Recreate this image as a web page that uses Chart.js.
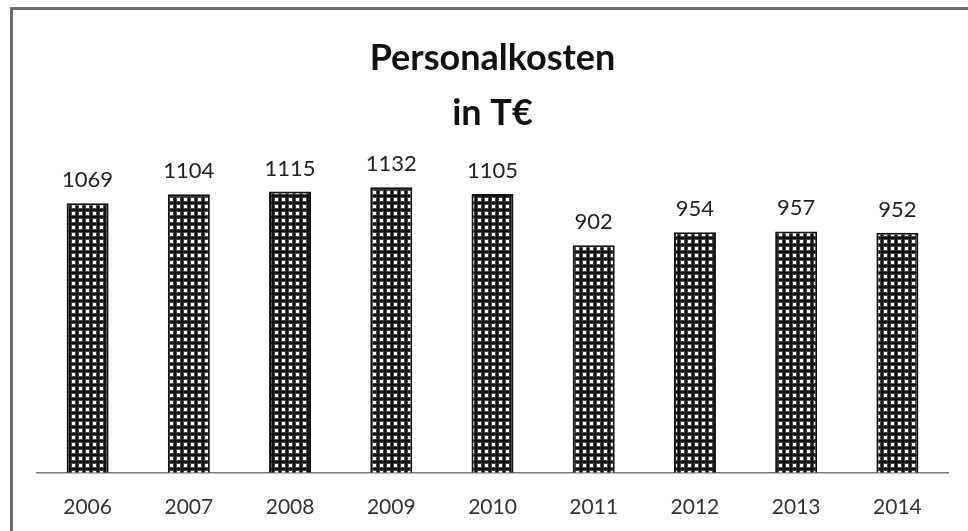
<!DOCTYPE html>
<html lang="de">
<head>
<meta charset="utf-8">
<title>Personalkosten in T€</title>
<script src="https://cdn.jsdelivr.net/npm/chart.js@4/dist/chart.umd.min.js"></script>
<style>
  html, body { margin: 0; padding: 0; background: #fff; overflow: hidden; }
  .frame {
    position: absolute; left: 10px; top: 7px; width: 1000px; height: 600px;
    border: 3px solid #6a6a6a; box-sizing: border-box;
  }
  .wrap { position: absolute; left: 0; top: 0; width: 968px; height: 531px; }
</style>
</head>
<body>
<div class="frame"></div>
<div class="wrap"><canvas id="chart" width="968" height="531"></canvas></div>
<script>
/* ---------- data ---------- */
const years = ["2006", "2007", "2008", "2009", "2010", "2011", "2012", "2013", "2014"];
const kosten = [1069, 1104, 1115, 1132, 1105, 902, 954, 957, 952];
const titleLines = ["Personalkosten", "in T€"];

const FONT = "Lato, 'Open Sans', sans-serif";

/* ---------- helpers ---------- */
function makePattern() {
  const c = document.createElement("canvas");
  c.width = 7; c.height = 7;
  const g = c.getContext("2d");
  g.fillStyle = "#111";
  g.fillRect(0, 0, 7, 7);
  g.fillStyle = "#4a4a4a";
  g.fillRect(1, 1, 5, 5);
  g.fillStyle = "#ffffff";
  g.fillRect(2, 2, 3, 3);
  return g.createPattern(c, "repeat");
}

// Werte über den Balken
const valueLabels = {
  id: "valueLabels",
  afterDatasetsDraw(chart) {
    const { ctx } = chart;
    const meta = chart.getDatasetMeta(0);
    ctx.save();
    ctx.font = `22px ${FONT}`;
    ctx.fillStyle = "#222";
    ctx.textAlign = "center";
    ctx.textBaseline = "alphabetic";
    meta.data.forEach((bar, i) => {
      ctx.fillText(String(kosten[i]), bar.x, bar.y - 16);
    });
    ctx.restore();
  },
};

/* ---------- chart ---------- */
new Chart(document.getElementById("chart"), {
  type: "bar",
  data: {
    labels: years,
    datasets: [{
      data: kosten,
      backgroundColor: makePattern(),
      borderColor: "#111",
      borderWidth: 2,
      borderSkipped: "bottom",
      categoryPercentage: 1,
      barPercentage: 0.415,
    }],
  },
  options: {
    responsive: false, animation: false,
    layout: { padding: { left: 37, right: 20, top: 0, bottom: -11 } },
    plugins: {
      legend: { display: false },
      tooltip: { enabled: false },
      title: {
        display: true,
        text: titleLines,
        color: "#111",
        font: { family: FONT, size: 36, weight: "bold", lineHeight: 1.53 },
        padding: { top: 31, bottom: 29 },
      },
    },
    scales: {
      x: {
        grid: { display: false, drawTicks: false },
        border: { display: true, color: "#7a7a7a", width: 1.5 },
        ticks: { color: "#333", font: { family: FONT, size: 21 }, padding: 22 },
      },
      y: { display: false, min: 0, max: 1200 },
    },
  },
  plugins: [valueLabels],
});
</script>
</body>
</html>
